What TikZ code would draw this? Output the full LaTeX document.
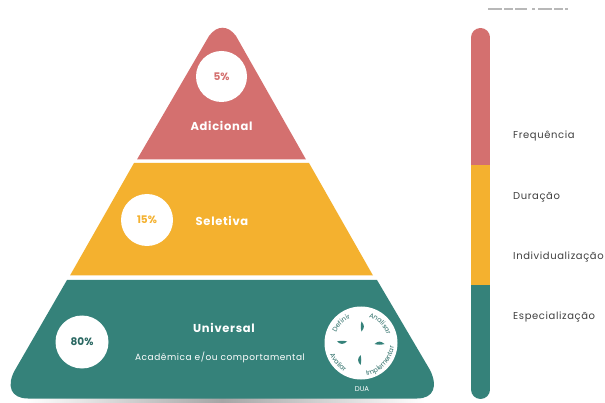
\documentclass[tikz,border=0pt]{standalone}
\usepackage{fontspec}
\setmainfont{Poppins}
\usetikzlibrary{decorations.text,fadings}
\definecolor{cred}{HTML}{D4706F}
\definecolor{cyel}{HTML}{F4B12F}
\definecolor{cteal}{HTML}{35827A}
\newfontfamily\wideface[LetterSpace=6]{Poppins}
\tikzset{
  badge/.style={circle,fill=white,inner sep=0pt,font=\fontsize{10.5}{12}\selectfont\bfseries},
  title/.style={text=white,inner sep=0pt,font=\wideface\fontsize{11.5}{13}\selectfont\bfseries},
  scale label/.style={anchor=west,inner sep=0pt,text=black!75,font=\wideface\fontsize{10}{12}\selectfont},
}
\newcommand{\ringtext}[4]{%
  \pgfmathsetmacro\rxa{361+#4*cos(#2)}%
  \pgfmathsetmacro\rya{343-#4*sin(#2)}%
  \pgfmathsetmacro\rxb{361+#4*cos(#3)}%
  \pgfmathsetmacro\ryb{343-#4*sin(#3)}%
  \pgfmathsetmacro\rk{4/3*tan((#3-#2)/4)*#4}%
  \pgfmathsetmacro\cxa{\rxa-\rk*sin(#2)}%
  \pgfmathsetmacro\cya{\rya-\rk*cos(#2)}%
  \pgfmathsetmacro\cxb{\rxb+\rk*sin(#3)}%
  \pgfmathsetmacro\cyb{\ryb+\rk*cos(#3)}%
  \path[decorate,decoration={text along path,text align=center,
    text={|\fontsize{6.6}{7}\selectfont\color{cteal!85!black}|#1}}]
    (\rxa,\rya) .. controls (\cxa,\cya) and (\cxb,\cyb) .. (\rxb,\ryb);}
\begin{document}
\begin{tikzpicture}[x=1pt,y=-1pt]
\useasboundingbox (0,0) rectangle (605,403);
\fill[white] (0,0) rectangle (605,403);
% shadow
\shade[left color=white,right color=black!35] (25,398) rectangle (222,403);
\shade[left color=black!35,right color=white] (222,398) rectangle (425,403);
% tiers
\fill[cred] (137,159.5) -- (209,36) .. controls (217,25) and (228,25) .. (236,36) -- (306,159.5) -- cycle;
\fill[cyel] (134,163) -- (309,163) -- (373,275.5) -- (70,275.5) -- cycle;
\fill[cteal] (67,280) -- (15,370) .. controls (6,386) and (11,398.5) .. (28,398.5) -- (417,398.5) .. controls (434,398.5) and (438,386) .. (430,370) -- (377,280) -- cycle;
% badges
\node[badge,minimum size=51pt,text=cred] (b1) at (221.5,76.5) {5\%};
\node[badge,minimum size=52pt,text=cyel] (b2) at (147,220) {15\%};
\node[badge,minimum size=53pt,text=cteal!80!black] (b3) at (82,342) {80\%};
% titles
\node[title] (t1) at (221.5,126) {Adicional};
\node[title] (t2) at (222,220.5) {Seletiva};
\node[title] (t3) at (224,328) {Universal};
\node[text=white,inner sep=0pt,font=\wideface\fontsize{9}{10}\selectfont] (t4) at (220,357.5) {Acadêmica e/ou comportamental};
% DUA wheel
\node[circle,fill=white,minimum size=73pt,inner sep=0pt] (w) at (361,343) {};
\foreach \a/\sx/\sy in {90/361.5/326.5,180/342/341.5,0/379.5/344,270/360.5/360}{
  \fill[cteal,shift={(\sx,\sy)},rotate=-\a] (-5,0) .. controls (-1,-3.2) and (1,-3.2) .. (5,0) .. controls (1,1) and (-1,1) .. (-5,0) -- cycle;
}
\ringtext{Definir}{170}{100}{27}
\ringtext{Analisar}{80}{10}{27}
\ringtext{Avaliar}{185}{255}{33}
\ringtext{Implementar}{268}{366}{33}
\node[text=white,inner sep=0pt,font=\fontsize{7}{8}\selectfont] (dua) at (362,389.5) {DUA};
% bar
\begin{scope}
\clip[rounded corners=9.5pt] (471,28) rectangle (490,399);
\fill[cred] (471,28) rectangle (490,165);
\fill[cyel] (471,165) rectangle (490,285);
\fill[cteal] (471,285) rectangle (490,399);
\end{scope}
% labels
\node[scale label] (l1) at (513,136) {Frequência};
\node[scale label] (l2) at (513,197) {Duração};
\node[scale label] (l3) at (513,257) {Individualização};
\node[scale label] (l4) at (513,317) {Especialização};
\draw[black!28,line width=1.2pt,dash pattern=on 14pt off 2pt on 9pt off 2pt on 12pt off 5pt on 3pt off 3pt] (488,9) -- (568,9);
\end{tikzpicture}
\end{document}
